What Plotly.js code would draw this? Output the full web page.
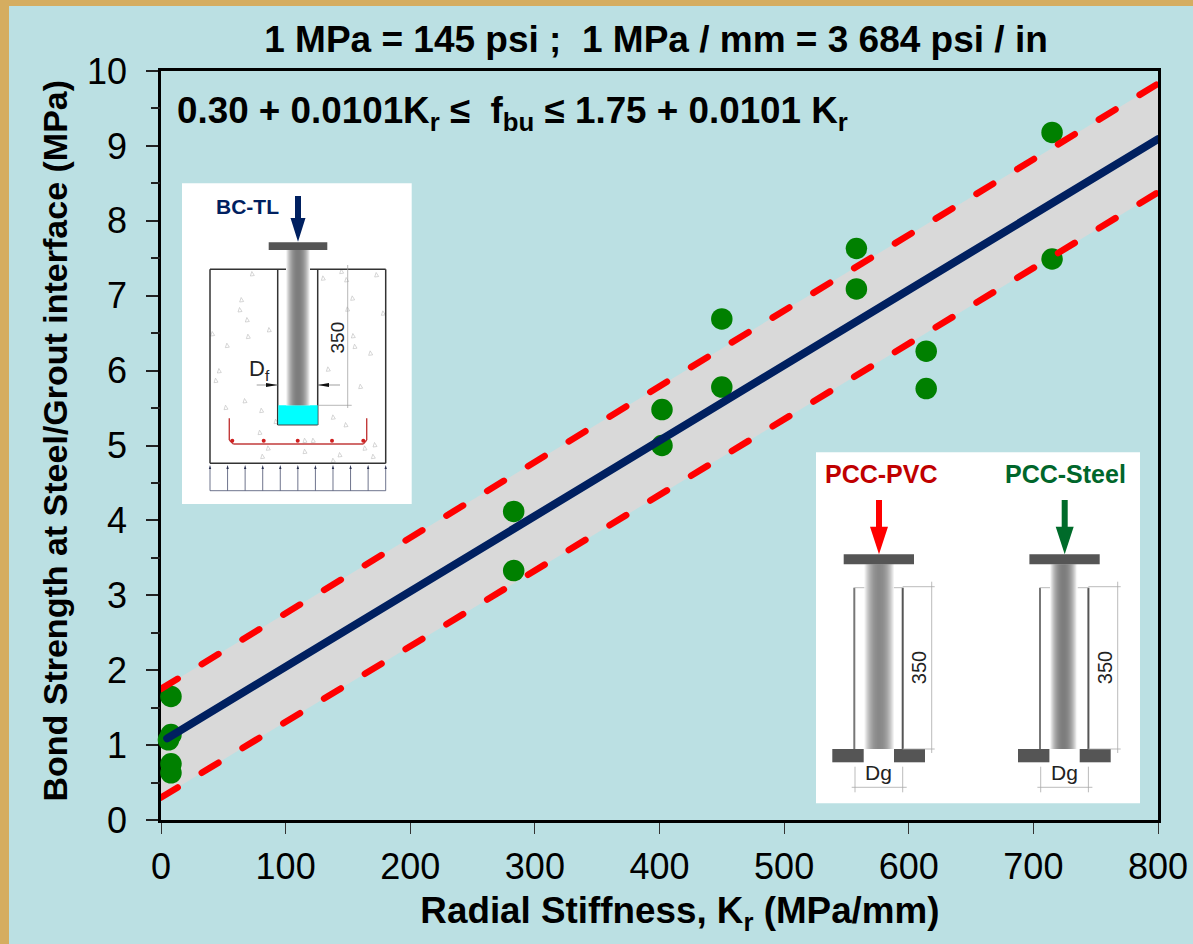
<!DOCTYPE html>
<html><head><meta charset="utf-8">
<script src="https://cdn.plot.ly/plotly-3.0.1.min.js"></script>
<style>
html,body{margin:0;padding:0;background:#BBE0E3;overflow:hidden}
#chart{width:1193px;height:944px}
.scatterlayer .js-line{stroke-linecap:round}
</style></head><body><div id="chart"></div>
<script>
// ---- Data ----
const stiffness = [8, 8, 6, 8, 8, 283, 283, 402, 402, 450, 450, 558, 558, 614, 614, 715, 715];
const strength  = [1.65, 1.14, 1.07, 0.75, 0.63, 4.12, 3.33, 5.48, 5.00, 6.69, 5.78, 7.63, 7.09, 6.26, 5.76, 9.18, 7.49];
const limitX  = [0, 800];
const upperY  = [1.75, 9.83];
const lowerY  = [0.30, 8.38];
const meanX   = [5, 800];
const meanY   = [1.09, 9.09];
const xTicks  = [0,100,200,300,400,500,600,700,800];
const yTicks  = [0,1,2,3,4,5,6,7,8,9,10];
const yMinorTicks = [0.5,1.5,2.5,3.5,4.5,5.5,6.5,7.5,8.5,9.5];
const titleText  = '1 MPa = 145 psi ;  1 MPa / mm = 3 684 psi / in';
const xTitleText = '\u00A0\u00A0\u00A0\u00A0Radial Stiffness, K<sub>r</sub> (MPa/mm)';
const yTitleText = '\u00A0Bond Strength at Steel/Grout interface (MPa)';
const formulaText = '0.30 + 0.0101K<sub>r</sub> ≤  f<sub>bu</sub> ≤ 1.75 + 0.0101 K<sub>r</sub>';

// ---- Page geometry ----
const PW=1193, PH=944, L=161, R=35, T=71, B=124;
const W=PW-L-R, H=PH-T-B;
const fx=p=>(p-L)/W, fy=p=>(T+H-p)/H;
const FONT='"Liberation Sans", Arial, sans-serif';
const shapes=[], notes=[];
function rect(x0,y0,x1,y1,fill,layer){shapes.push({type:'rect',xref:'paper',yref:'paper',x0:fx(x0),x1:fx(x1),y0:fy(y0),y1:fy(y1),fillcolor:fill,line:{width:0},layer:layer||'above'});}
function seg(x0,y0,x1,y1,color,w){shapes.push({type:'line',xref:'paper',yref:'paper',x0:fx(x0),x1:fx(x1),y0:fy(y0),y1:fy(y1),line:{color:color,width:w},layer:'above'});}
function poly(pts,fill,lineCol){shapes.push({type:'path',xref:'paper',yref:'paper',path:'M'+pts.map(p=>fx(p[0])+' '+fy(p[1])).join(' L')+' Z',fillcolor:fill||'rgba(0,0,0,0)',line:lineCol?{color:lineCol,width:0.7}:{width:0},layer:'above'});}
function label(text,x,y,size,color,opts){notes.push(Object.assign({xref:'paper',yref:'paper',x:fx(x),y:fy(y),text:text,showarrow:false,xanchor:'center',yanchor:'middle',font:{family:FONT,size:size,color:color}},opts||{}));}
function steel(x0,x1,y0,y1,core){const n=Math.round(x1-x0);for(let i=0;i<n;i++){const t=Math.abs((i+0.5)/n*2-1);const v=Math.round(core+(255-core)*Math.pow(t,2.2));rect(x0+i,y0,x0+i+1.4>x1?x1:x0+i+1.4,y1,`rgb(${v},${v},${v})`);}}
function downArrow(cx,sw,hw,y0,y1,y2,col){poly([[cx-sw,y0],[cx+sw,y0],[cx+sw,y1],[cx+hw,y1],[cx,y2],[cx-hw,y1],[cx-sw,y1]],col);}

// gold frame of the slide
rect(0,0,PW,6,'#D5AD60','below');
rect(0,0,9,PH,'#D5AD60','below');

// ---- Inset 1: BC-TL ----
rect(182,183.3,411.7,504,'#FFFFFF');
const aggregates=[[247,312],[215,390],[210,420],[232,450],[128,492],[235,500],[172,527],[298,480],[148,603],[138,632],[225,693],[168,713],[275,722],[318,755],[270,788],[295,835],[278,860],[460,325],[515,305],[530,330],[620,315],[548,385],[533,418],[640,430],[550,498],[555,530],[602,550],[475,598],[572,650],[490,742],[528,765],[405,845],[510,855],[490,872],[585,835],[615,825],[610,860],[430,812],[405,812]];
aggregates.forEach(a=>{const x=170+a[0]/3,y=170+a[1]/3;poly([[x-2,y+2],[x+2,y+1.5],[x-.5,y-2.5]],null,'#C4C4C4');});
seg(210,269.3,286,269.3,'#333',1.5);seg(310,269.3,385.7,269.3,'#333',1.5);
seg(210,269.3,210,463.3,'#333',1.5);seg(385.7,269.3,385.7,463.3,'#333',1.5);seg(210,463.3,385.7,463.3,'#333',1.5);
seg(277.7,269.3,277.7,425,'#333',1.5);seg(317.7,269.3,317.7,425,'#333',1.5);
rect(278.3,405.3,317.7,425,'#00FFFF');seg(277.7,425,317.7,425,'#444',1);
steel(286,310,250,405.3,125);
rect(268.7,242.3,327.3,250,'#555555');
downArrow(298,3,7.5,196,218,241.7,'#002060');
label('<b>BC-TL</b>',247,206,21,'#002060');
const rebar=[[229.3,418.3],[229.3,440],[233.3,444],[363.3,444],[366.7,440],[366.7,418.3]];
rebar.slice(1).forEach((p,i)=>seg(rebar[i][0],rebar[i][1],p[0],p[1],'#C23B3B',1.4));
[232.3,263.7,297.7,332,363.3].forEach(x=>shapes.push({type:'circle',xref:'paper',yref:'paper',x0:fx(x-2),x1:fx(x+2),y0:fy(440.8+2),y1:fy(440.8-2),fillcolor:'#D02020',line:{width:0},layer:'above'}));
seg(347.7,265,347.7,408,'#999',0.7);seg(317.7,405.3,351.7,405.3,'#999',0.7);
label('350',336.5,338,19,'#222',{textangle:-90});
label('D<sub>f</sub>',259,370,22,'#222');
seg(256.7,385,277.7,385,'#777',0.7);poly([[266,383],[277.7,385],[266,387]],'#111');
seg(317.7,385,340,385,'#777',0.7);poly([[329,383],[317.7,385],[329,387]],'#111');
for(let i=0;i<=10;i++){const x=210+i*17.57;seg(x,468,x,490.7,'#4A5070',0.8);poly([[x-1.2,469],[x+1.2,469],[x,465]],'#2A3050');}
seg(210,490.7,385.7,490.7,'#4A5070',0.8);

// ---- Inset 2: PCC-PVC / PCC-Steel ----
rect(816,452.3,1140,803.3,'#FFFFFF');
function pcc(o,core,dimX,arrowCol){
 seg(854.3+o,587.7,854.3+o,749,'#777',2);
 seg(902.7+o,587.7,902.7+o,749,'#555',2);
 seg(854.3+o,587.7,866+o,587.7,'#BBB',1);seg(892+o,587.7,902.7+o,587.7,'#BBB',1);
 steel(864.3+o,894+o-(o?2.5:0),564.3,749,core);
 rect(843.7+o,554.3,914+o,564.3,'#555555');
 rect(832.3+o,749,863.7+o,762.3,'#555555');
 rect(894+o,749,925+o,762.3,'#555555');
 downArrow(879+o,3,9,500,526.7,554.3,arrowCol);
 seg(dimX,581.7,dimX,753,'#AAA',0.8);
 seg(902.7+o,586.7,dimX+3,586.7,'#AAA',0.8);
 seg(902.7+o,749,dimX+3,749,'#AAA',0.8);
 label('350',dimX-13.2,667.7,20,'#222',{textangle:-90});
 label('Dg',878.5+o,772.3,21,'#222');
 seg(851.7+o,787.3,906.7+o,787.3,'#AAA',0.8);
 seg(855+o,766.7,855+o,792.3,'#AAA',0.8);seg(902.7+o,766.7,902.7+o,792.3,'#AAA',0.8);
}
pcc(0,125,931.7,'#FF0000');
pcc(185.7,125,1117.7,'#006B2A');
label('<b>PCC-PVC</b>',881,474.3,25,'#C00000');
label('<b>PCC-Steel</b>',1065,474.3,25,'#00662B');

// formula
label('<b>'+formulaText+'</b>',175,113,36.8,'#000',{xanchor:'left'});

const traces=[
 {x:[limitX[0],limitX[1],limitX[1],limitX[0]],y:[upperY[0],upperY[1],lowerY[1],lowerY[0]],mode:'lines',fill:'toself',fillcolor:'#D9D9D9',line:{width:0},hoverinfo:'skip',showlegend:false},
 {x:stiffness,y:strength,mode:'markers',marker:{size:21.5,color:'#008000',line:{width:0}},cliponaxis:false,showlegend:false},
 {x:limitX,y:upperY,mode:'lines',line:{color:'#FF0000',width:6.5,dash:'19.5px,28.2px'},showlegend:false},
 {x:limitX,y:lowerY,mode:'lines',line:{color:'#FF0000',width:6.5,dash:'19.5px,28.2px'},showlegend:false},
 {x:meanX,y:meanY,mode:'lines',line:{color:'#002060',width:8},showlegend:false},
 {x:[null],y:[null],yaxis:'y2',mode:'lines',showlegend:false,hoverinfo:'skip'}
];
const layout={
 width:PW,height:PH,paper_bgcolor:'#BBE0E3',plot_bgcolor:'rgba(0,0,0,0)',
 margin:{l:L,r:R,t:T,b:B,pad:0},showlegend:false,hovermode:false,
 font:{family:FONT,color:'#000'},
 title:{text:'<b>'+titleText+'</b>',x:656/PW,xanchor:'center',y:1-39/PH,yanchor:'middle',font:{family:FONT,size:37,color:'#000'}},
 xaxis:{range:[0,800],tickmode:'array',tickvals:xTicks,ticktext:xTicks.map(String),ticks:'outside',ticklen:11,tickwidth:1.2,tickcolor:'#333',
   showline:true,linecolor:'#000',linewidth:2.5,mirror:true,showgrid:false,zeroline:false,layer:'below traces',
   tickfont:{family:FONT,size:36,color:'#000'},ticklabelstandoff:2,
   title:{text:'<b>'+xTitleText+'</b>',font:{family:FONT,size:36.8,color:'#000'},standoff:12},automargin:false},
 yaxis:{range:[0,10],tickmode:'array',tickvals:yTicks,ticktext:yTicks.map(String),ticks:'outside',ticklen:12,tickwidth:1.5,tickcolor:'#222',
   showline:true,linecolor:'#000',linewidth:2.5,mirror:true,showgrid:false,zeroline:false,layer:'below traces',
   tickfont:{family:FONT,size:36,color:'#000'},ticklabelstandoff:12,
   title:{text:'<b>'+yTitleText+'</b>',font:{family:FONT,size:34,color:'#000'},standoff:10},automargin:false},
 yaxis2:{overlaying:'y',side:'left',range:[0,10],tickmode:'array',tickvals:yMinorTicks,ticks:'outside',ticklen:9,tickwidth:1.5,tickcolor:'#222',
   showticklabels:false,showline:false,showgrid:false,zeroline:false,layer:'below traces',automargin:false},
 shapes:shapes,annotations:notes
};
Plotly.newPlot('chart',traces,layout,{displayModeBar:false});
</script></body></html>
